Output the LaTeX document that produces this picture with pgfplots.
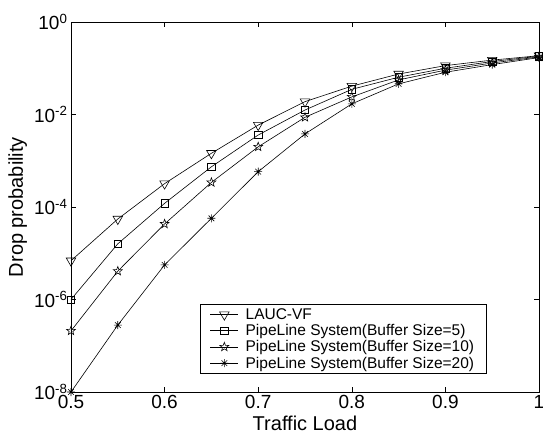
\documentclass[border=0pt]{standalone}
\usepackage{fontspec}
\setmainfont{Liberation Sans}
\usepackage{pgfplots}
\pgfplotsset{compat=1.18}
\usetikzlibrary{plotmarks}

% open five-pointed star, as in MATLAB's 'p' marker
\pgfdeclareplotmark{pentagram}{%
  \pgfpathmoveto{\pgfpointpolar{90}{\pgfplotmarksize}}%
  \pgfpathlineto{\pgfpointpolar{126}{0.42\pgfplotmarksize}}%
  \pgfpathlineto{\pgfpointpolar{162}{\pgfplotmarksize}}%
  \pgfpathlineto{\pgfpointpolar{198}{0.42\pgfplotmarksize}}%
  \pgfpathlineto{\pgfpointpolar{234}{\pgfplotmarksize}}%
  \pgfpathlineto{\pgfpointpolar{270}{0.42\pgfplotmarksize}}%
  \pgfpathlineto{\pgfpointpolar{306}{\pgfplotmarksize}}%
  \pgfpathlineto{\pgfpointpolar{342}{0.42\pgfplotmarksize}}%
  \pgfpathlineto{\pgfpointpolar{18}{\pgfplotmarksize}}%
  \pgfpathlineto{\pgfpointpolar{54}{0.42\pgfplotmarksize}}%
  \pgfpathclose
  \pgfusepathqstroke
}
% MATLAB '*' marker: plus and cross together
\pgfdeclareplotmark{mstar}{%
  \pgfpathmoveto{\pgfqpoint{0pt}{\pgfplotmarksize}}%
  \pgfpathlineto{\pgfqpoint{0pt}{-\pgfplotmarksize}}%
  \pgfpathmoveto{\pgfqpoint{\pgfplotmarksize}{0pt}}%
  \pgfpathlineto{\pgfqpoint{-\pgfplotmarksize}{0pt}}%
  \pgfpathmoveto{\pgfpointpolar{45}{\pgfplotmarksize}}%
  \pgfpathlineto{\pgfpointpolar{225}{\pgfplotmarksize}}%
  \pgfpathmoveto{\pgfpointpolar{135}{\pgfplotmarksize}}%
  \pgfpathlineto{\pgfpointpolar{315}{\pgfplotmarksize}}%
  \pgfusepathqstroke
}

\begin{document}
\begin{tikzpicture}
\begin{axis}[
    scale only axis,
    width=468pt, height=370pt,
    xmin=0.5, xmax=1,
    ymode=log, ymin=1e-8, ymax=1,
    xtick={0.5,0.6,0.7,0.8,0.9,1},
    xticklabels={0.5,0.6,0.7,0.8,0.9,1},
    ytick={1e-8,1e-6,1e-4,1e-2,1},
    yticklabels={10\textsuperscript{-8},10\textsuperscript{-6},10\textsuperscript{-4},10\textsuperscript{-2},10\textsuperscript{0}},
    yminorticks=false,
    tick pos=both,
    tick align=inside,
    major tick length=5pt,
    tick style={black, line width=0.6pt},
    axis line style={line width=0.8pt},
    ticklabel style={font=\fontsize{19}{19}\selectfont},
    label style={font=\fontsize{20}{20}\selectfont},
    xlabel={Traffic Load},
    ylabel={Drop probability},
    legend style={at={(0.275,0.049)}, anchor=south west,
        font=\fontsize{15.5}{18.7}\selectfont, draw=black, line width=0.7pt,
        inner xsep=10pt, inner ysep=2pt, row sep=-0.5pt,
        /tikz/every odd column/.append style={column sep=5pt}},
    legend cell align=left,
    legend image code/.code={%
        \draw (0pt,0pt) -- (28pt,0pt);
        \draw plot coordinates {(14pt,0pt)};},
    every axis plot/.append style={black, line width=0.6pt},
]

\addplot[mark=triangle, mark size=5.5pt, mark options={rotate=180}]
    coordinates {(0.5,6.9e-6)(0.55,5.5e-5)(0.6,3.2e-4)(0.65,1.45e-3)(0.7,5.9e-3)(0.75,1.9e-2)(0.8,4.1e-2)(0.85,7.5e-2)(0.9,0.114)(0.95,0.15)(1,0.187)};
\addlegendentry{LAUC-VF}

\addplot[mark=square, mark size=3.6pt]
    coordinates {(0.5,1e-6)(0.55,1.6e-5)(0.6,1.2e-4)(0.65,7.4e-4)(0.7,3.6e-3)(0.75,1.25e-2)(0.8,3.5e-2)(0.85,6.4e-2)(0.9,0.10)(0.95,0.14)(1,0.182)};
\addlegendentry{PipeLine System(Buffer Size=5)}

\addplot[mark=pentagram, mark size=4.6pt]
    coordinates {(0.5,2.1e-7)(0.55,4.1e-6)(0.6,4.3e-5)(0.65,3.4e-4)(0.7,2.0e-3)(0.75,8.7e-3)(0.8,2.4e-2)(0.85,5.6e-2)(0.9,9.1e-2)(0.95,0.13)(1,0.176)};
\addlegendentry{PipeLine System(Buffer Size=10)}

\addplot[mark=mstar, mark size=4pt]
    coordinates {(0.5,1e-8)(0.55,2.8e-7)(0.6,5.6e-6)(0.65,5.7e-5)(0.7,5.8e-4)(0.75,3.8e-3)(0.8,1.7e-2)(0.85,4.6e-2)(0.9,8.2e-2)(0.95,0.12)(1,0.17)};
\addlegendentry{PipeLine System(Buffer Size=20)}

\end{axis}
\pgfresetboundingbox
\path[use as bounding box] (current axis.south west) ++(-71pt,-46pt) rectangle ++(543pt,438pt);
\end{tikzpicture}
\end{document}
